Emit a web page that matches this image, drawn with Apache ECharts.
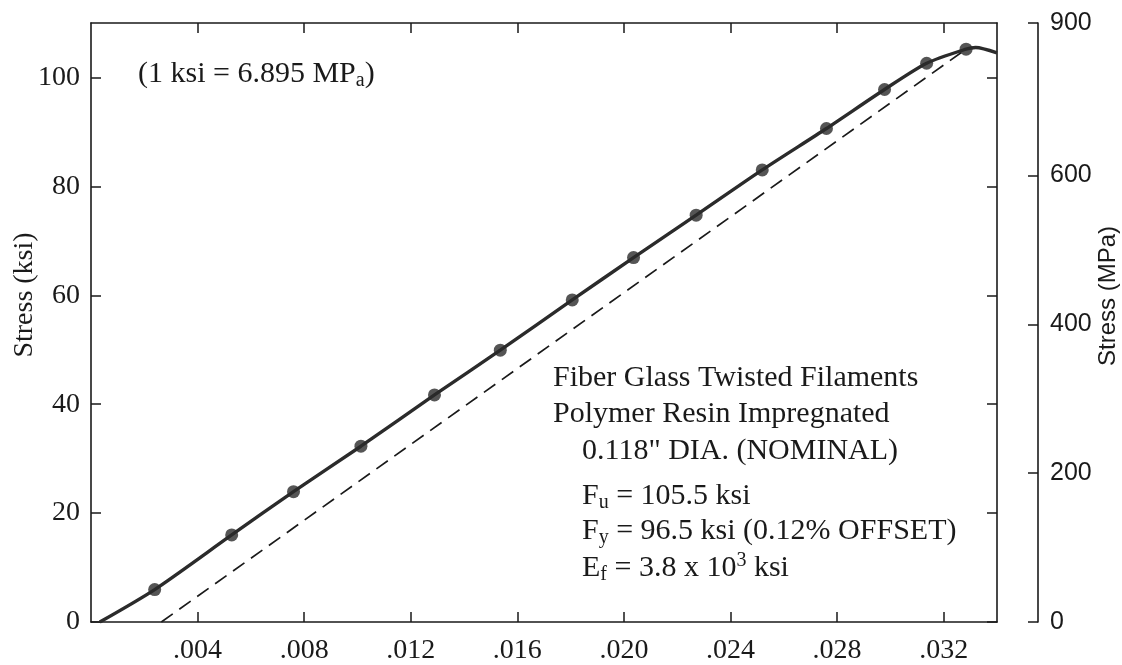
<!DOCTYPE html>
<html>
<head>
<meta charset="utf-8">
<title>Fiber Glass Twisted Filaments — Stress vs Strain</title>
<script src="https://cdn.jsdelivr.net/npm/echarts@6/dist/echarts.min.js"></script>
<style>
  html, body { margin: 0; padding: 0; background: #fff; }
  #chart { width: 1122px; height: 665px; }
</style>
</head>
<body>
<div id="chart"></div>
<script>
// Measured test points (strain, stress in ksi)
const strainPts = [0.00239, 0.00528, 0.00760, 0.01013, 0.01289, 0.01536, 0.01806,
                   0.02036, 0.02271, 0.02519, 0.02760, 0.02978, 0.03136, 0.03284];
const stressPts = [5.96, 15.99, 23.94, 32.28, 41.70, 49.91, 59.14,
                   66.92, 74.71, 83.02, 90.63, 97.79, 102.61, 105.2];

// Curve start, ultimate (Fu) and the end of the trace
const curveStart = [0.00033, 0];
const curvePeak  = [0.0332, 105.5];
const curveEnd   = [0.0340, 104.5];

// 0.12% offset line used for the yield strength
const offsetStrain = [0.00264, 0.03275];
const offsetStress = [0, 104.9];

// Axis ticks
const strainTicks = [0.004, 0.008, 0.012, 0.016, 0.020, 0.024, 0.028, 0.032];
const ksiTicks = [0, 20, 40, 60, 80, 100];
const mpaTicks = [0, 200, 400, 600];
const mpaAxisTop = 805;
const mpaTopLabel = '900';

const serif = '"Liberation Serif", "DejaVu Serif", serif';
const sans = '"Liberation Sans", Arial, sans-serif';
const ink = '#1a1a1a';

const pointData = strainPts.map((x, i) => [x, stressPts[i]]);
const curveData = [curveStart].concat(pointData, [curvePeak, curveEnd]);
const offsetData = offsetStrain.map((x, i) => [x, offsetStress[i]]);

const chart = echarts.init(document.getElementById('chart'), null, { renderer: 'canvas' });

const axisLine = { show: true, onZero: false, lineStyle: { color: ink, width: 1.6 } };
const tickIn = (vals) => ({ show: true, inside: true, length: 10, customValues: vals,
                            lineStyle: { color: ink, width: 1.5 } });

chart.setOption({
  animation: false,
  backgroundColor: '#ffffff',
  grid: { left: 91, right: 125, top: 23, bottom: 38, containLabel: false },
  xAxis: [
    {
      type: 'value', position: 'bottom', min: 0, max: 0.034,
      axisLine: axisLine, splitLine: { show: false },
      axisTick: tickIn(strainTicks),
      axisLabel: {
        customValues: strainTicks, margin: 15,
        color: ink, fontFamily: serif, fontSize: 28,
        formatter: v => v.toFixed(3).replace(/^0\./, '.')
      }
    },
    {
      type: 'value', position: 'top', min: 0, max: 0.034,
      axisLine: axisLine, splitLine: { show: false },
      axisTick: tickIn(strainTicks), axisLabel: { show: false }
    }
  ],
  yAxis: [
    {
      type: 'value', position: 'left', min: 0, max: 110,
      axisLine: axisLine, splitLine: { show: false },
      axisTick: tickIn(ksiTicks),
      axisLabel: { customValues: ksiTicks, margin: 11, color: ink, fontFamily: serif, fontSize: 28 }
    },
    {
      type: 'value', position: 'right', offset: 41, min: 0, max: mpaAxisTop,
      axisLine: axisLine, splitLine: { show: false },
      axisTick: tickIn(mpaTicks.concat([mpaAxisTop])),
      axisLabel: {
        customValues: mpaTicks.concat([mpaAxisTop]), margin: 12,
        color: ink, fontFamily: sans, fontSize: 25,
        formatter: v => (v === mpaAxisTop ? mpaTopLabel : String(v))
      }
    },
    {
      type: 'value', position: 'right', offset: 0, min: 0, max: 110,
      axisLine: axisLine, splitLine: { show: false },
      axisTick: tickIn(ksiTicks), axisLabel: { show: false }
    }
  ],
  series: [
    {
      name: 'offset', type: 'line', data: offsetData, showSymbol: false,
      lineStyle: { color: ink, width: 1.7, type: [14, 8] }, z: 2
    },
    {
      name: 'stress-strain', type: 'line', data: curveData, showSymbol: false,
      smooth: 0.25,
      lineStyle: { color: '#2b2b2b', width: 3.4 }, z: 3
    },
    {
      name: 'test points', type: 'scatter', data: pointData,
      symbol: 'circle', symbolSize: 13,
      itemStyle: { color: '#2b2b2b' }, z: 4
    }
  ],
  graphic: [
    {
      type: 'text', x: 25, y: 295, rotation: Math.PI / 2,
      style: { text: 'Stress (ksi)', font: '28px ' + serif, fill: ink,
               align: 'center', verticalAlign: 'middle' }
    },
    {
      type: 'text', x: 1108, y: 296, rotation: Math.PI / 2,
      style: { text: 'Stress (MPa)', font: '24px ' + sans, fill: ink,
               align: 'center', verticalAlign: 'middle' }
    },
    {
      type: 'text', x: 138, y: 74,
      style: {
        text: '(1 ksi = 6.895 MP{s|a})', font: '30px ' + serif, fill: ink,
        lineHeight: 34, verticalAlign: 'middle',
        rich: { s: { fontSize: 20, fontFamily: serif, lineHeight: 14, verticalAlign: 'bottom' } }
      }
    },
    {
      type: 'group',
      children: [
        { line: 'Fiber Glass Twisted Filaments', x: 553, y: 378 },
        { line: 'Polymer Resin Impregnated', x: 553, y: 414 },
        { line: '0.118" DIA. (NOMINAL)', x: 582, y: 451 },
        { line: 'F{s|u} = 105.5 ksi', x: 582, y: 496 },
        { line: 'F{s|y} = 96.5 ksi (0.12% OFFSET)', x: 582, y: 531 },
        { line: 'E{s|f} = 3.8 x 10{p|3} ksi', x: 582, y: 568 }
      ].map(d => ({
        type: 'text', x: d.x, y: d.y,
        style: {
          text: d.line, font: '30px ' + serif, fill: ink,
          lineHeight: 34, verticalAlign: 'middle',
          rich: {
            s: { fontSize: 20, fontFamily: serif, lineHeight: 14, verticalAlign: 'bottom' },
            p: { fontSize: 20, fontFamily: serif, lineHeight: 16, verticalAlign: 'top' }
          }
        }
      }))
    }
  ]
});
</script>
</body>
</html>
